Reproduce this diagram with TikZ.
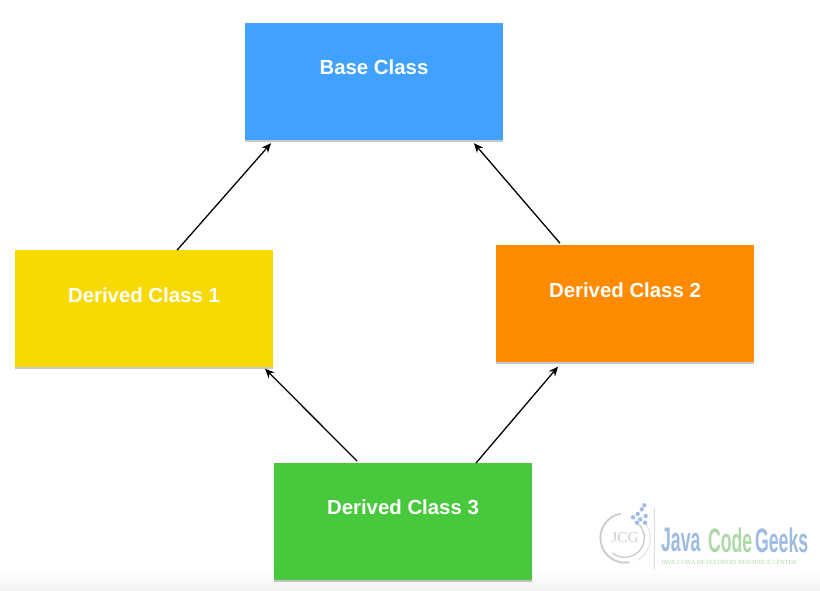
\documentclass[tikz,border=0pt]{standalone}
\usepackage{xcolor}
\usepackage{fontspec}
\setmainfont{Liberation Sans}
\newfontfamily\logoserif{Liberation Serif}
\usetikzlibrary{arrows.meta,positioning,shadows}
\definecolor{baseblue}{HTML}{40A1FF}
\definecolor{sunyellow}{HTML}{F7D904}
\definecolor{deeporange}{HTML}{FF8C00}
\definecolor{leafgreen}{HTML}{48C93D}
\definecolor{logoblue}{HTML}{9DBBE3}
\definecolor{logogreen}{HTML}{AED8A8}
\definecolor{logogray}{HTML}{C9CDD2}
\tikzset{
  classbox/.style={
    rectangle, fill=#1, text=white,
    minimum width=7.74cm, minimum height=3.51cm,
    font=\fontsize{17.4}{20}\selectfont\bfseries, align=center,
    inner sep=0pt, text depth=0.86cm,
    drop shadow={shadow xshift=0pt, shadow yshift=-1.5pt, opacity=0.22, fill=black}
  },
  classbox/.default=baseblue,
  inherits/.style={
    -{Stealth[length=8pt,width=7pt]}, line width=1.1pt, color=black
  },
  logoword/.style={
    font=\fontsize{29}{30}\selectfont\bfseries, inner sep=0pt,
    xscale=0.52, transform shape, anchor=west
  },
}
\begin{document}
\begin{tikzpicture}
  \useasboundingbox (0,0) rectangle (24.6,-17.73);
  % Fade at the bottom
  \fill[top color=white, bottom color=black!5, draw=none] (0,-17.1) rectangle (24.6,-17.73);

  % Classes
  \node[classbox=baseblue] (base) at (11.22,-2.445) {Base Class};
  \node[classbox=sunyellow, below=3.3cm of base, xshift=-6.9cm] (dc1) {Derived Class 1};
  \node[classbox=deeporange, below=3.15cm of base, xshift=7.53cm] (dc2) {Derived Class 2};
  \node[classbox=leafgreen, below=2.86cm of dc1, xshift=7.77cm] (dc3) {Derived Class 3};

  % Inheritance
  \draw[inherits] ([xshift=0.99cm]dc1.north) -- ([xshift=-3.09cm,yshift=-0.09cm]base.south);
  \draw[inherits] ([xshift=-1.95cm,yshift=0.06cm]dc2.north) -- ([xshift=3cm,yshift=-0.09cm]base.south);
  \draw[inherits] ([xshift=-1.38cm,yshift=0.06cm]dc3.north) -- ([xshift=3.63cm,yshift=-0.03cm]dc1.south);
  \draw[inherits] ([xshift=2.19cm]dc3.north) -- ([xshift=-2.01cm,yshift=-0.12cm]dc2.south);

  % Logo
  \node[font=\logoserif\fontsize{13}{14}\selectfont, text=logogray, inner sep=0pt] (jcg) at (18.75,-16.14) {JCG};
  \draw[logogray, line width=1.2pt] (jcg.center) ++(60:0.58) arc (60:-130:0.58);
  \draw[logogray, line width=1.6pt] (jcg.center) ++(100:0.74) arc (100:280:0.74);
  \draw[logogray!60, line width=0.8pt] (jcg.center) ++(-60:0.76) arc (-60:40:0.76);
  \foreach \dx/\dy in {0.24/0.62,0.38/0.72,0.5/0.86,0.62/0.66,0.46/0.56,0.6/0.46,0.36/0.46,0.58/0.98}
    \fill[logoblue] (jcg.center) ++(\dx,\dy) circle (0.065);
  \draw[logogray!70, line width=0.7pt] (19.62,-15.24) -- (19.62,-17.1);
  \node[logoword, text=logoblue] (ljava) at (19.83,-16.2) {Java};
  \node[logoword, text=logogreen] (lcode) at (21.24,-16.2) {Code};
  \node[logoword, text=logoblue] (lgeeks) at (22.65,-16.2) {Geeks};
  \node[font=\logoserif\fontsize{5.3}{6}\selectfont, text=logogreen, inner sep=0pt, anchor=west] (ltag) at (19.82,-16.86) {JAVA 2 JAVA DEVELOPERS RESOURCE CENTER};
\end{tikzpicture}
\end{document}
